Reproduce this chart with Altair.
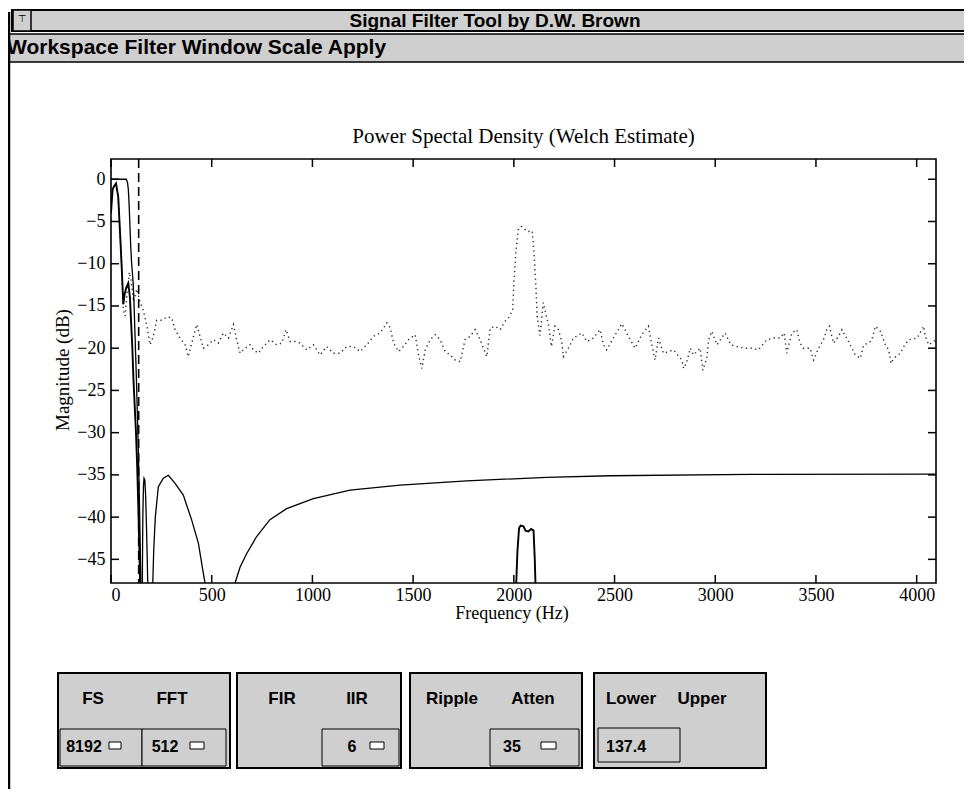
import altair as alt
import pandas as pd

# ---------------- data ----------------
# original signal PSD (dotted)
psd_freq = [0, 8, 16, 25, 36, 45, 53, 61, 70, 80, 91, 100, 112, 128, 144, 160,
            177, 194, 210, 227, 252, 277, 301, 318, 343, 368, 384, 401, 425, 442,
            459, 483, 508, 533, 558, 583, 608, 624, 641, 666, 690, 707, 732, 757,
            790, 823, 848, 869, 889, 914, 938, 972, 1005, 1038, 1071, 1104, 1137,
            1171, 1204, 1237, 1270, 1303, 1336, 1370, 1386, 1403, 1428, 1452, 1477,
            1510, 1527, 1543, 1560, 1585, 1610, 1634, 1659, 1684, 1709, 1734, 1758,
            1783, 1808, 1833, 1866, 1883, 1907, 1932, 1957, 1974, 1994, 2001, 2011,
            2023, 2039, 2068, 2091, 2100, 2110, 2116, 2130, 2146, 2171, 2187, 2204,
            2221, 2238, 2246, 2276, 2296, 2338, 2362, 2395, 2428, 2445, 2461, 2494,
            2536, 2569, 2602, 2635, 2668, 2680, 2701, 2718, 2743, 2793, 2834, 2843,
            2859, 2876, 2892, 2925, 2938, 2958, 2967, 2983, 3008, 3049, 3077, 3107,
            3140, 3181, 3214, 3256, 3289, 3322, 3342, 3355, 3380, 3405, 3421, 3438,
            3471, 3488, 3513, 3537, 3554, 3567, 3587, 3612, 3629, 3662, 3695, 3720,
            3737, 3762, 3778, 3795, 3820, 3845, 3861, 3873, 3886, 3919, 3936, 3961,
            4002, 4035, 4043, 4060, 4096]
psd_db = [-3.0, -1.2, -0.8, -0.5, -2.1, -6.4, -10.3, -15.5, -16.2, -13.5, -11.0, -12.0,
          -14.5, -13.0, -14.5, -15.5, -17.2, -19.6, -18.6, -16.7, -16.7, -16.3, -16.4,
          -17.8, -18.8, -19.6, -21.0, -19.4, -17.2, -18.6, -20.0, -19.6, -19.0, -19.4,
          -18.2, -18.8, -17.2, -19.0, -20.6, -20.0, -19.6, -20.2, -20.6, -19.8, -19.0,
          -19.6, -19.4, -17.8, -19.2, -19.2, -19.4, -20.2, -19.6, -20.8, -19.8, -20.6,
          -20.6, -19.8, -19.8, -20.4, -19.6, -18.6, -18.2, -17.0, -17.6, -19.4, -20.4,
          -19.8, -19.0, -18.4, -20.8, -22.4, -20.2, -19.0, -18.4, -19.0, -20.4, -20.8,
          -21.4, -21.6, -19.0, -18.6, -17.8, -19.0, -21.0, -17.6, -17.4, -17.8, -16.8,
          -16.4, -15.5, -11.9, -8.4, -5.8, -5.6, -6.2, -6.1, -8.6, -12.9, -16.3, -18.5,
          -14.6, -17.1, -19.8, -17.4, -17.8, -19.2, -21.0, -19.8, -18.8, -18.2, -19.2,
          -18.8, -17.8, -19.6, -20.2, -18.8, -17.1, -18.6, -20.0, -18.4, -17.4, -19.0,
          -21.4, -18.8, -20.6, -20.2, -21.4, -22.4, -21.6, -20.0, -20.8, -20.0, -22.6,
          -21.2, -19.0, -18.0, -19.6, -18.2, -19.6, -19.8, -20.0, -20.0, -20.2, -19.0,
          -18.8, -18.8, -18.2, -20.6, -18.2, -17.8, -19.4, -20.0, -20.0, -21.4, -20.0,
          -19.0, -17.8, -17.4, -19.4, -18.6, -17.8, -19.2, -20.8, -21.2, -19.6, -19.4,
          -19.0, -17.4, -18.0, -19.6, -20.2, -21.8, -21.2, -20.6, -19.8, -19.0, -18.8,
          -17.4, -18.6, -19.6, -19.0]

# filter magnitude response (solid)
filt_freq = [0, 20, 40, 60, 76, 82, 86, 90, 94, 98, 102, 106, 110, 114, 118, 122, 126,
             130, 134, 138, 141, 144, 147, 150, 153, 156, 158, 161, 164, 168, 172, 176,
             180, 184, 192, 200, 206, 212, 220, 235, 260, 285, 318, 359, 400, 434, 458,
             472, 500, 545, 590, 616, 641, 674, 723, 789, 872, 1005, 1187, 1435, 1766,
             2163, 2478, 3173, 4096]
filt_db = [0, 0, 0, 0, 0, -0.4, -1.2, -3.0, -5.5, -8.0, -9.8, -11.0, -12.3, -14.5, -17.5,
           -20.5, -23.5, -27.0, -30.5, -34.5, -38.0, -42.0, -46.0, -52.0, -65.0, -46.0,
           -40.0, -36.5, -35.4, -35.6, -37.5, -41.0, -45.0, -50.0, -65.0, -55.0, -49.0,
           -44.0, -40.0, -36.4, -35.4, -35.05, -36.0, -37.4, -40.3, -43.1, -46.6, -48.5,
           -53.0, -65.0, -53.0, -47.8, -45.9, -44.3, -42.3, -40.3, -39.0, -37.8, -36.8,
           -36.2, -35.7, -35.3, -35.1, -34.95, -34.9]

# filtered signal PSD (solid, heavier)
out_freq = [0, 8, 16, 25, 36, 45, 53, 61, 68, 76, 86, 94, 100, 106, 112, 118, 124, 130,
            136, 142, 148, 156, 1990, 2004, 2012, 2018, 2026, 2034, 2048, 2058, 2072,
            2086, 2098, 2104, 2110, 2118, 4096]
out_db = [-4.0, -1.2, -0.8, -0.5, -2.1, -6.4, -10.3, -14.8, -13.6, -12.8, -12.3, -14.0,
          -17.0, -20.0, -24.0, -27.0, -30.0, -34.0, -39.0, -45.0, -53.0, -60.0, -60.0,
          -54.0, -47.8, -44.0, -41.3, -41.0, -41.1, -41.6, -41.7, -41.4, -41.6, -45.0,
          -50.0, -60.0, -60.0]

cutoff_hz = [137.4]
x_ticks = [0, 500, 1000, 1500, 2000, 2500, 3000, 3500, 4000]
y_ticks = [0, -5, -10, -15, -20, -25, -30, -35, -40, -45]

plot_title = "Power Spectal Density (Welch Estimate)"
x_title = "Frequency (Hz)"
y_title = "Magnitude (dB)"
window_title = "Signal Filter Tool by D.W. Brown"
menu_text = "Workspace Filter Window Scale Apply"
panel_labels = ["FS", "FFT", "FIR", "IIR", "Ripple", "Atten", "Lower", "Upper"]
field_values = ["8192", "512", "6", "35", "137.4"]

# ---------------- layout (page pixels) ----------------
OX, OY = 111, 159          # plot origin on the page
W, H = 825, 424            # plot area
GRAY = "#cfcfcf"

def rx(v):
    return v - OX

def ry(v):
    return v - OY

X_DOM = [0, 4096]
Y_DOM = [-47.8, 2.4]

xs = alt.Scale(domain=X_DOM, nice=False, zero=False)
ys = alt.Scale(domain=Y_DOM, nice=False, zero=False)

psd_df = pd.DataFrame({"f": psd_freq, "db": psd_db})
filt_df = pd.DataFrame({"f": filt_freq, "db": filt_db})
out_df = pd.DataFrame({"f": out_freq, "db": out_db})
cut_df = pd.DataFrame({"f": cutoff_hz})
xt_df = pd.DataFrame({"f": x_ticks})
yt_df = pd.DataFrame({"db": y_ticks})

xaxis = alt.Axis(values=x_ticks, ticks=False, domain=False, grid=False, format="d",
                 labelFont="Liberation Serif", labelFontSize=18, labelColor="black",
                 labelPadding=3, title=None)
yaxis = alt.Axis(values=y_ticks, ticks=False, domain=False, grid=False, format="d",
                 labelFont="Liberation Serif", labelFontSize=18, labelColor="black",
                 labelPadding=6, title=None)

psd = alt.Chart(psd_df).mark_line(color="#2a2a2a", strokeWidth=1.4, strokeDash=[1.3, 3.4],
                                  clip=True).encode(
    x=alt.X("f:Q", scale=xs, axis=xaxis),
    y=alt.Y("db:Q", scale=ys, axis=yaxis),
)
filt = alt.Chart(filt_df).mark_line(color="black", strokeWidth=1.3, clip=True).encode(
    x=alt.X("f:Q", scale=xs), y=alt.Y("db:Q", scale=ys))
out = alt.Chart(out_df).mark_line(color="black", strokeWidth=1.9, clip=True).encode(
    x=alt.X("f:Q", scale=xs), y=alt.Y("db:Q", scale=ys))
cut = alt.Chart(cut_df).mark_rule(color="black", strokeWidth=1.6, strokeDash=[9, 5]).encode(
    x=alt.X("f:Q", scale=xs), y=alt.value(0), y2=alt.value(H))

tick_b = alt.Chart(xt_df).mark_rule(color="black", strokeWidth=1.5).encode(
    x=alt.X("f:Q", scale=xs), y=alt.value(H), y2=alt.value(H - 8))
tick_t = alt.Chart(xt_df).mark_rule(color="black", strokeWidth=1.5).encode(
    x=alt.X("f:Q", scale=xs), y=alt.value(0), y2=alt.value(8))
tick_l = alt.Chart(yt_df).mark_rule(color="black", strokeWidth=1.5).encode(
    y=alt.Y("db:Q", scale=ys), x=alt.value(0), x2=alt.value(8))
tick_r = alt.Chart(yt_df).mark_rule(color="black", strokeWidth=1.5).encode(
    y=alt.Y("db:Q", scale=ys), x=alt.value(W), x2=alt.value(W - 8))

# ---------------- window decorations ----------------
rects = []
def box(x1, y1, x2, y2, fill=GRAY, stroke="black", sw=1.5):
    rects.append(dict(x=rx(x1), x2=rx(x2), y=ry(y1), y2=ry(y2), fill=fill, stroke=stroke, sw=sw))

box(12, 10, 990, 31, sw=2)          # title bar
box(13, 10, 31, 31)                 # window menu button
box(5, 34, 990, 62)                 # menu bar
panels = [(58, 230), (237, 401), (410, 582), (594, 766)]
for a, b in panels:
    box(a, 673, b, 768, sw=2)
fields = [(60, 142), (142, 226), (322, 399), (490, 579)]
for a, b in fields:
    box(a, 729, b, 766, sw=1)
box(598, 728, 680, 762, sw=1)
spins = [(109, 121), (190, 204), (370, 384), (541, 556)]
for a, b in spins:
    box(a, 742, b, 749, fill="white", sw=1)

rect_df = pd.DataFrame(rects)
deco = alt.Chart(rect_df).mark_rect().encode(
    x=alt.X("x:Q", scale=None), x2="x2:Q",
    y=alt.Y("y:Q", scale=None), y2="y2:Q",
    fill=alt.Fill("fill:N", scale=None),
    stroke=alt.Stroke("stroke:N", scale=None),
    strokeWidth=alt.StrokeWidth("sw:Q", scale=None),
)

lines_df = pd.DataFrame([
    dict(x=rx(9), x2=rx(9), y=ry(12), y2=ry(790)),
])
frame_lines = alt.Chart(lines_df).mark_rule(color="black", strokeWidth=2.5).encode(
    x=alt.X("x:Q", scale=None), x2="x2:Q", y=alt.Y("y:Q", scale=None), y2="y2:Q")

# texts
title_df = pd.DataFrame([dict(t=plot_title, x=rx(523.5), y=ry(137))])
title_t = alt.Chart(title_df).mark_text(font="Liberation Serif", fontSize=21, color="black",
                                        align="center", baseline="middle").encode(
    x=alt.X("x:Q", scale=None), y=alt.Y("y:Q", scale=None), text="t:N")
xtitle_df = pd.DataFrame([dict(t=x_title, x=rx(512), y=ry(614))])
xtitle = alt.Chart(xtitle_df).mark_text(font="Liberation Serif", fontSize=18, color="black",
                                        align="center", baseline="middle").encode(
    x=alt.X("x:Q", scale=None), y=alt.Y("y:Q", scale=None), text="t:N")
ytitle_df = pd.DataFrame([dict(t=y_title, x=rx(63), y=ry(370))])
ytitle = alt.Chart(ytitle_df).mark_text(font="Liberation Serif", fontSize=19, color="black",
                                        align="center", baseline="middle", angle=270).encode(
    x=alt.X("x:Q", scale=None), y=alt.Y("y:Q", scale=None), text="t:N")

bold_df = pd.DataFrame([dict(t=window_title, x=rx(495), y=ry(21))])
bold_t = alt.Chart(bold_df).mark_text(font="Liberation Sans", fontSize=19, fontWeight="bold",
                                      color="black", align="center", baseline="middle").encode(
    x=alt.X("x:Q", scale=None), y=alt.Y("y:Q", scale=None), text="t:N")
menu_df = pd.DataFrame([dict(t=menu_text, x=rx(7), y=ry(48))])
menu_t = alt.Chart(menu_df).mark_text(font="Liberation Sans", fontSize=21, fontWeight="bold",
                                      color="black", align="left", baseline="middle").encode(
    x=alt.X("x:Q", scale=None), y=alt.Y("y:Q", scale=None), text="t:N")
btn_df = pd.DataFrame([dict(t="⊤", x=rx(22), y=ry(19))])
btn_t = alt.Chart(btn_df).mark_text(font="DejaVu Sans", fontSize=10, color="black",
                                    align="center", baseline="middle").encode(
    x=alt.X("x:Q", scale=None), y=alt.Y("y:Q", scale=None), text="t:N")

label_x = [93, 172, 282, 357, 452, 533, 631, 702]
lab_df = pd.DataFrame({"t": panel_labels, "x": [rx(v) for v in label_x],
                       "y": [ry(699)] * len(panel_labels)})
labels = alt.Chart(lab_df).mark_text(font="Liberation Sans", fontSize=17, fontWeight="bold",
                                     color="black", align="center", baseline="middle").encode(
    x=alt.X("x:Q", scale=None), y=alt.Y("y:Q", scale=None), text="t:N")
val_x = [84, 165, 352, 512, 626]
val_df = pd.DataFrame({"t": field_values, "x": [rx(v) for v in val_x],
                       "y": [ry(747)] * len(field_values)})
vals = alt.Chart(val_df).mark_text(font="Liberation Sans", fontSize=16, fontWeight="bold",
                                   color="black", align="center", baseline="middle").encode(
    x=alt.X("x:Q", scale=None), y=alt.Y("y:Q", scale=None), text="t:N")

chart = alt.layer(
    deco, frame_lines, psd, filt, out, cut, tick_b, tick_t, tick_l, tick_r,
    title_t, xtitle, ytitle, bold_t, menu_t, btn_t, labels, vals
).properties(
    width=W, height=H,
    autosize=alt.AutoSizeParams(type="none"),
    padding={"left": OX - 8, "top": OY - 8, "right": 972 - 8 - OX - W, "bottom": 781 - (OY - 8) - H},
    background="white",
).configure_view(stroke="black", strokeWidth=1.6)

chart.save("out.html", embed_options={"renderer": "svg", "actions": False})
